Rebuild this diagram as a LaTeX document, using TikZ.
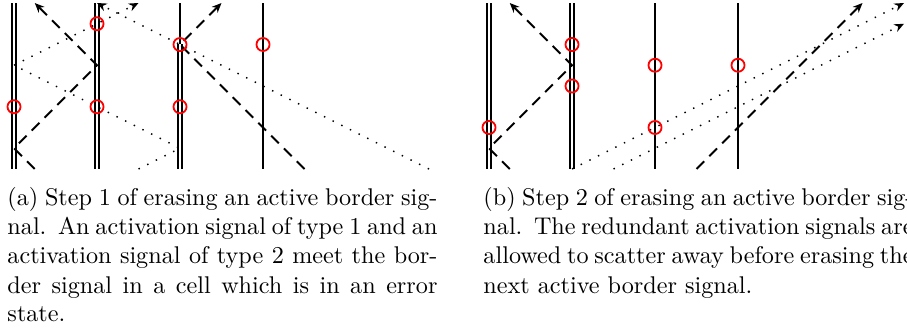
\documentclass[tikz,border=0pt]{standalone}
\usetikzlibrary{arrows.meta}
\begin{document}
\begin{tikzpicture}[x=0.4137pt,y=-0.4137pt,
  brd/.style={line width=0.8pt},
  dbl/.style={double, line width=0.6pt, double distance=0.9pt},
  actone/.style={line width=0.8pt, dash pattern=on 4.5pt off 3pt},
  acttwo/.style={line width=0.6pt, dash pattern=on 0.6pt off 3.4pt},
  tip/.style={-{Stealth[length=4pt,width=3.4pt]}},
  hit/.style={circle, draw=red, line width=0.75pt, minimum size=5.4pt, inner sep=0pt},
  capline/.style={anchor=base west, inner sep=0pt, font=\normalsize},
  grid/.style={x={(34.337pt,0pt)}, y={(0pt,8.584pt)}}]
\clip (0,0) rectangle (907,331);
\useasboundingbox (0,0) rectangle (907,331);

% ---------------- (a) ----------------
\begin{scope}[shift={(5.792pt,-69.915pt)}, grid]
  \foreach \i in {0,1,2,3} {
    \coordinate (ab\i) at (\i,0);
    \coordinate (at\i) at (\i,8);
  }
  \coordinate (am2) at (2,6);
  \draw[dbl] (ab0) -- (at0);
  \draw[dbl] (ab1) -- (at1);
  \draw[dbl] (ab2) -- (am2);
  \draw[brd] (am2) -- (at2);
  \draw[brd] (ab3) -- (at3);
  % dashed signal A
  \coordinate (aA1) at (0.25,0);
  \coordinate (aA2) at (0,1);
  \coordinate (aA3) at (1,5);
  \coordinate (aA4) at (0.25,8);
  \draw[actone,tip] (aA1) -- (aA2) -- (aA3) -- (aA4);
  % dashed signal B
  \coordinate (aB1) at (3.5,0);
  \coordinate (aB2) at (2,6);
  \coordinate (aB3) at (2.5,8);
  \draw[actone,tip] (aB1) -- (aB2) -- (aB3);
  % dotted signal A
  \coordinate (aC1) at (1.5,0);
  \coordinate (aC2) at (2,1);
  \coordinate (aC3) at (0,5);
  \coordinate (aC4) at (1.5,8);
  \draw[acttwo,tip] (aC1) -- (aC2) -- (aC3) -- (aC4);
  % dotted signal B
  \coordinate (aD1) at (5,0);
  \coordinate (aD2) at (1,8);
  \draw[acttwo,tip] (aD1) -- (aD2);
  % meetings
  \node[hit] (ah1) at (0,3) {};
  \node[hit] (ah2) at (1,7) {};
  \node[hit] (ah3) at (1,3) {};
  \node[hit] (ah4) at (2,6) {};
  \node[hit] (ah5) at (2,3) {};
  \node[hit] (ah6) at (3,6) {};
\end{scope}

% ---------------- (b) ----------------
\begin{scope}[shift={(202.30pt,-69.915pt)}, grid]
  \foreach \i in {0,1,2,3} {
    \coordinate (bb\i) at (\i,0);
    \coordinate (bt\i) at (\i,8);
  }
  \draw[dbl] (bb0) -- (bt0);
  \draw[dbl] (bb1) -- (bt1);
  \draw[brd] (bb2) -- (bt2);
  \draw[brd] (bb3) -- (bt3);
  % dashed signal A
  \coordinate (bA1) at (0.25,0);
  \coordinate (bA2) at (0,1);
  \coordinate (bA3) at (1,5);
  \coordinate (bA4) at (0.25,8);
  \draw[actone,tip] (bA1) -- (bA2) -- (bA3) -- (bA4);
  % dashed signal C
  \coordinate (bB1) at (2.5,0);
  \coordinate (bB2) at (4.5,8);
  \draw[actone,tip] (bB1) -- (bB2);
  % dotted signals
  \coordinate (bC1) at (1,0);
  \coordinate (bC2) at (5,8);
  \draw[acttwo,tip] (bC1) -- (bC2);
  \coordinate (bD1) at (1.5,0);
  \coordinate (bD2) at (5,7);
  \draw[acttwo,tip] (bD1) -- (bD2);
  % meetings
  \node[hit] (bh1) at (0,2) {};
  \node[hit] (bh2) at (1,6) {};
  \node[hit] (bh3) at (1,4) {};
  \node[hit] (bh4) at (2,5) {};
  \node[hit] (bh5) at (2,2) {};
  \node[hit] (bh6) at (3,5) {};
\end{scope}

% ---------------- captions ----------------
\node[capline] (ca1) at (7,206) {\makebox[177.9pt][s]{(a)\ Step 1 of erasing an active border sig-}};
\node[capline] (ca2) at (7,235) {\makebox[177.9pt][s]{nal.\ \ An activation signal of type 1 and an}};
\node[capline] (ca3) at (7,264) {\makebox[177.9pt][s]{activation signal of type 2 meet the bor-}};
\node[capline] (ca4) at (7,293) {\makebox[177.9pt][s]{der signal in a cell which is in an error}};
\node[capline] (ca5) at (7,322) {state.};

\node[capline] (cb1) at (483,206) {\makebox[177.9pt][s]{(b)\ Step 2 of erasing an active border sig-}};
\node[capline] (cb2) at (483,235) {\makebox[177.9pt][s]{nal.\ \ The redundant activation signals are}};
\node[capline] (cb3) at (483,264) {\makebox[177.9pt][s]{allowed to scatter away before erasing the}};
\node[capline] (cb4) at (483,293) {next active border signal.};
\end{tikzpicture}
\end{document}
